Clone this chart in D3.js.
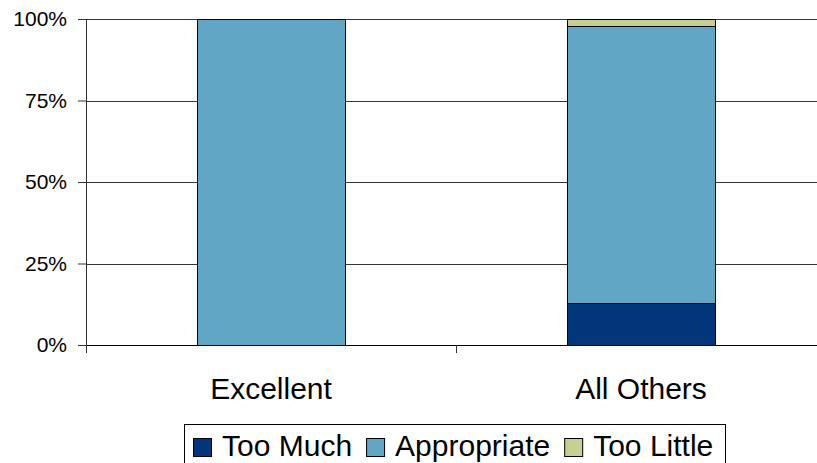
<!DOCTYPE html>
<html>
<head>
<meta charset="utf-8">
<script src="https://cdn.jsdelivr.net/npm/d3@7"></script>
<style>
  body { margin: 0; background: #fff; }
</style>
</head>
<body>
<div id="chart"></div>
<script>
// data
const categories = ["Excellent", "All Others"];
const keys = ["Too Much", "Appropriate", "Too Little"];
const tooMuch = [0, 13];
const appropriate = [100, 85];
const tooLittle = [0, 2];
const yTicks = [0, 25, 50, 75, 100];
const colors = ["#03357a", "#62a6c6", "#c5d18f"];

const FONT = "Arial, 'Liberation Sans', Helvetica, sans-serif";
const W = 817, H = 463;
const margin = { top: 19, left: 86 };
const plotW = 740, plotH = 326;

const svg = d3.select("#chart").append("svg")
    .attr("width", W).attr("height", H);

const g = svg.append("g").attr("transform", `translate(${margin.left},${margin.top})`);

const rows = categories.map((c, i) => ({
    cat: c, "Too Much": tooMuch[i], "Appropriate": appropriate[i], "Too Little": tooLittle[i]
}));
const stacked = d3.stack().keys(keys)(rows);

const x = d3.scaleBand().domain(categories).range([0, plotW]);
const y = d3.scaleLinear().domain([0, 100]).range([plotH, 0]);
const barW = x.bandwidth() * 0.4;

// gridlines
g.append("g")
    .selectAll("line")
    .data(yTicks.filter(d => d > 0))
    .join("line")
    .attr("x1", 0).attr("x2", plotW)
    .attr("y1", d => Math.round(y(d)) + 0.5).attr("y2", d => Math.round(y(d)) + 0.5)
    .attr("stroke", "#333").attr("stroke-width", 1);

// bars
g.append("g")
    .selectAll("g")
    .data(stacked)
    .join("g")
    .attr("fill", (d, i) => colors[i])
    .selectAll("rect")
    .data(d => d.filter(v => v[1] - v[0] > 0))
    .join("rect")
    .attr("x", d => Math.round(x(d.data.cat) + (x.bandwidth() - barW) / 2) + 0.5)
    .attr("y", d => Math.round(y(d[1])) + 0.5)
    .attr("width", barW)
    .attr("height", d => Math.round(y(d[0])) - Math.round(y(d[1])))
    .attr("stroke", "#000").attr("stroke-width", 1);

// y axis
const yAxis = g.append("g")
    .call(d3.axisLeft(y).tickValues(yTicks).tickFormat(d => d + "%").tickSize(8).tickPadding(11));
yAxis.attr("font-family", FONT);
yAxis.selectAll("text").style("font-family", FONT).style("font-size", "21px").attr("fill", "#000");
yAxis.selectAll("line, path").attr("stroke", "#333");

// x axis
const xAxis = g.append("g")
    .attr("transform", `translate(0,${plotH})`)
    .call(d3.axisBottom(x).tickSize(0).tickPadding(33));
xAxis.select(".domain").attr("stroke", "#000");
xAxis.selectAll("text").style("font-family", FONT).style("font-size", "30px").attr("fill", "#000");
// category separators
g.append("g")
    .selectAll("line")
    .data([0, plotW / 2, plotW])
    .join("line")
    .attr("x1", d => d + 0.5).attr("x2", d => d + 0.5)
    .attr("y1", plotH).attr("y2", plotH + 8)
    .attr("stroke", "#333");

// legend
const legend = svg.append("g").attr("transform", "translate(184,424)");
legend.append("rect")
    .attr("x", 0.5).attr("y", 0.5).attr("width", 541).attr("height", 45)
    .attr("fill", "#fff").attr("stroke", "#000");
let lx = 9;
keys.forEach((k, i) => {
    legend.append("rect")
        .attr("x", lx + 0.5).attr("y", 14.5).attr("width", 18).attr("height", 18)
        .attr("fill", colors[i]).attr("stroke", "#000");
    const t = legend.append("text")
        .attr("x", lx + 29).attr("y", 32)
        .style("font-family", FONT)
        .style("font-size", "30px")
        .text(k);
    lx += 29 + t.node().getComputedTextLength() + 14;
});
</script>
</body>
</html>
